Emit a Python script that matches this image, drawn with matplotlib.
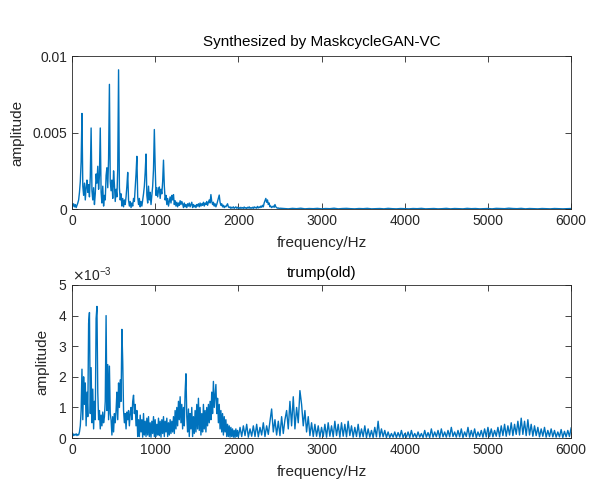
import numpy as np
import matplotlib
matplotlib.use("Agg")
import matplotlib.pyplot as plt
from matplotlib.ticker import ScalarFormatter

plt.rcParams['font.family'] = ['Liberation Sans', 'DejaVu Sans']

# spectrum of the synthesized voice, amplitude in units of 1e-5
f_syn = np.concatenate([np.arange(0, 2501, 10), np.arange(2550, 6001, 50)])
a_syn = [
    5, 20, 35, 15, 30, 10, 25, 40, 60, 110,
    180, 310, 625, 150, 90, 170, 60, 140, 190, 110,
    160, 80, 210, 530, 120, 60, 140, 30, 100, 230,
    170, 280, 130, 220, 530, 110, 40, 150, 20, 90,
    60, 220, 270, 140, 330, 815, 180, 120, 190, 70,
    250, 160, 50, 130, 80, 260, 910, 140, 60, 100,
    20, 70, 15, 60, 30, 80, 150, 240, 60, 20,
    50, 10, 40, 20, 70, 50, 140, 230, 345, 80,
    30, 70, 15, 50, 20, 60, 100, 150, 240, 360,
    90, 40, 150, 60, 110, 30, 90, 150, 260, 520,
    280, 90, 140, 80, 120, 145, 70, 130, 100, 180,
    320, 150, 60, 90, 30, 70, 20, 50, 80, 40,
    90, 60, 95, 30, 55, 20, 45, 15, 40, 25,
    55, 30, 50, 35, 10, 40, 15, 30, 10, 35,
    20, 40, 15, 30, 45, 10, 30, 15, 25, 10,
    30, 20, 35, 15, 40, 20, 35, 25, 45, 20,
    40, 30, 50, 25, 45, 60, 40, 95, 50, 30,
    45, 20, 35, 15, 30, 50, 70, 92, 45, 25,
    35, 15, 25, 10, 20, 15, 25, 35, 15, 10,
    15, 5, 12, 8, 15, 5, 10, 15, 6, 12,
    5, 10, 4, 12, 6, 10, 5, 14, 6, 10,
    4, 12, 7, 15, 5, 10, 6, 12, 5, 15,
    8, 12, 6, 18, 8, 14, 10, 20, 12, 25,
    15, 40, 55, 70, 45, 60, 30, 40, 15, 20,
    10, 15, 20, 12, 30, 15, 10, 6, 8, 4,
    6,
    4, 2, 5, 3, 6, 2, 4, 3, 5, 2,
    4, 3, 6, 2, 4, 5, 3, 2, 4, 3,
    5, 2, 3, 4, 2, 5, 3, 2, 4, 3,
    2, 4, 3, 5, 2, 3, 4, 2, 3, 5,
    2, 4, 3, 2, 5, 3, 4, 2, 3, 4,
    2, 5, 4, 3, 6, 4, 3, 5, 2, 4,
    3, 2, 4, 3, 2, 4, 3, 2, 3, 4,
]

# spectrum of the original voice, amplitude in units of 1e-5
f_old = np.concatenate([np.arange(0, 2001, 10), np.arange(2020, 6001, 20)])
a_old = [
    10, 15, 8, 12, 10, 14, 8, 12, 10, 20,
    40, 90, 225, 60, 200, 110, 180, 40, 150, 70,
    375, 410, 80, 230, 50, 160, 30, 120, 60, 390,
    430, 150, 60, 90, 30, 75, 40, 85, 50, 70,
    120, 400, 90, 240, 60, 235, 80, 60, 10, 70,
    20, 80, 50, 90, 150, 60, 180, 100, 190, 120,
    355, 250, 90, 50, 80, 30, 85, 60, 90, 40,
    80, 100, 60, 120, 140, 80, 110, 40, 90, 5,
    60, 5, 75, 20, 60, 3, 80, 10, 55, 5,
    65, 10, 70, 5, 50, 3, 55, 15, 70, 5,
    60, 5, 45, 10, 65, 8, 55, 3, 60, 15,
    70, 5, 55, 20, 65, 5, 50, 10, 60, 15,
    55, 20, 70, 15, 90, 30, 100, 40, 120, 60,
    135, 50, 110, 30, 100, 40, 150, 210, 70, 20,
    95, 5, 80, 30, 100, 5, 70, 15, 90, 20,
    110, 30, 130, 25, 100, 10, 80, 20, 110, 30,
    90, 20, 100, 40, 110, 50, 120, 60, 150, 80,
    185, 100, 140, 175, 80, 130, 50, 110, 30, 90,
    20, 80, 10, 70, 20, 60, 5, 45, 5, 40,
    3, 35, 5, 30, 3, 25, 2, 30, 5, 25,
    3,
    35, 5, 40, 8, 45, 3, 30, 6, 40, 5,
    45, 4, 35, 10, 50, 5, 40, 12, 55, 95,
    20, 60, 10, 55, 8, 70, 15, 60, 90, 30,
    120, 40, 135, 30, 100, 50, 155, 110, 40, 90,
    20, 70, 8, 50, 5, 45, 6, 40, 3, 35,
    5, 45, 3, 50, 6, 40, 4, 55, 8, 45,
    3, 50, 6, 45, 4, 55, 8, 40, 3, 35,
    5, 45, 3, 30, 4, 40, 2, 30, 3, 25,
    2, 35, 4, 55, 3, 30, 4, 25, 2, 20,
    2, 15, 3, 20, 2, 18, 3, 25, 2, 15,
    3, 20, 2, 25, 3, 15, 2, 20, 3, 15,
    2, 25, 3, 18, 2, 30, 3, 20, 4, 25,
    2, 30, 4, 20, 3, 25, 4, 35, 5, 20,
    3, 25, 4, 30, 2, 20, 5, 35, 3, 25,
    4, 30, 2, 20, 5, 25, 3, 30, 4, 35,
    5, 30, 4, 25, 6, 35, 4, 40, 8, 45,
    6, 40, 10, 50, 8, 45, 12, 55, 10, 65,
    12, 55, 8, 60, 10, 45, 6, 40, 8, 35,
    4, 30, 6, 35, 3, 25, 5, 30, 4, 25,
    3, 20, 4, 28, 2, 22, 4, 25, 5, 33,
]

x_ticks = [0, 1000, 2000, 3000, 4000, 5000, 6000]
blue = '#0072BD'
edge = '#262626'

fig = plt.figure(figsize=(5.9, 4.83), dpi=100)
ax1 = fig.add_axes([0.122, 0.567, 0.846, 0.317])
ax2 = fig.add_axes([0.122, 0.093, 0.846, 0.317])

ax1.plot(f_syn, np.array(a_syn) * 1e-5, color=blue, lw=1.0)
ax2.plot(f_old, np.array(a_old) * 1e-5, color=blue, lw=1.0)

for ax in (ax1, ax2):
    ax.set_xlim(0, 6000)
    ax.set_xticks(x_ticks)
    ax.tick_params(direction='in', top=True, right=True, length=4,
                   width=0.6, color=edge, labelsize=10, labelcolor=edge)
    for s in ax.spines.values():
        s.set_color(edge)
        s.set_linewidth(0.6)
    ax.set_xlabel('frequency/Hz', fontsize=11, color=edge, labelpad=6)
    ax.set_ylabel('amplitude', fontsize=11, color=edge, labelpad=6)

ax1.set_ylim(0, 0.01)
ax1.set_yticks([0, 0.005, 0.01], ['0', '0.005', '0.01'])
ax1.set_title('Synthesized by MaskcycleGAN-VC', fontsize=11, color='black', pad=7)

ax2.set_ylim(0, 5e-3)
ax2.set_yticks([0, 1e-3, 2e-3, 3e-3, 4e-3, 5e-3])
fmt = ScalarFormatter(useMathText=True)
fmt.set_powerlimits((-2, 2))
ax2.yaxis.set_major_formatter(fmt)
ax2.yaxis.get_offset_text().set_fontsize(10)
ax2.yaxis.get_offset_text().set_color(edge)
ax2.set_title('trump(old)', fontsize=11, color='black', pad=6)

fig.savefig('out.png', dpi=100)
